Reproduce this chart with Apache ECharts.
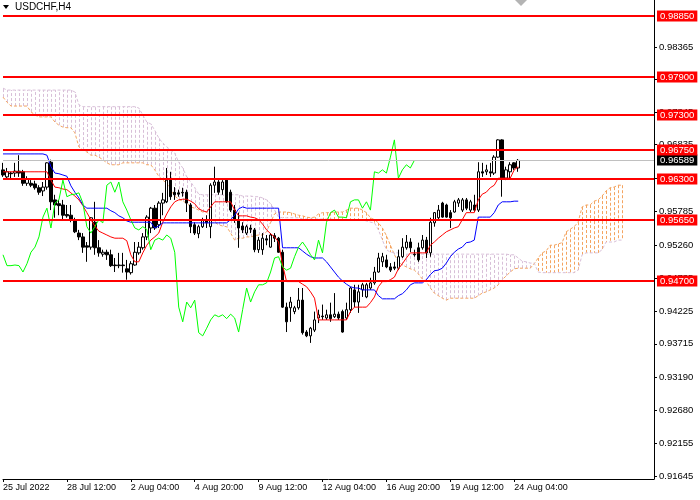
<!DOCTYPE html>
<html><head><meta charset="utf-8">
<script src="https://cdn.jsdelivr.net/npm/echarts@6/dist/echarts.min.js"></script>
<style>html,body{margin:0;padding:0;background:#fff}#c{width:700px;height:500px}</style>
</head><body><div id="c"></div>
<script>
const symbolTitle = 'USDCHF,H4';
const xLabels = ['25 Jul 2022','28 Jul 12:00','2 Aug 04:00','4 Aug 20:00','9 Aug 12:00','12 Aug 04:00','16 Aug 20:00','19 Aug 12:00','24 Aug 04:00'];
const yTicks = [0.98365,0.97855,0.97345,0.96835,0.96310,0.95785,0.95260,0.94735,0.94225,0.93715,0.93190,0.92680,0.92155,0.91645];
const levels = [0.9885,0.9790,0.9730,0.9675,0.9630,0.9565,0.9470];
const lastPrice = 0.96589;

const opens = [.9644,.9633,.9639,.9639,.9642,.9641,.9623,.9623,.9622,.9616,
.9611,.9617,.9656,.9597,.9591,.9589,.9574,.9573,.9566,.9545,
.9539,.9525,.9523,.9562,.9522,.9512,.9515,.9511,.9495,.9494,
.9495,.9489,.9483,.9495,.9514,.9522,.9539,.9553,.9584,.9558,
.9592,.9594,.9628,.9609,.9608,.9609,.9609,.9589,.9558,.9544,
.9555,.9566,.9555,.9620,.9625,.9613,.9628,.9609,.9581,.9566,
.9556,.9545,.9553,.9550,.9519,.9519,.9536,.9523,.9541,.9537,
.9515,.9429,.9428,.9422,.9428,.9440,.9390,.9384,.9393,.9412,
.9415,.9412,.9417,.9414,.9418,.9422,.9412,.9425,.9456,.9437,
.9456,.9445,.9459,.9467,.9484,.9500,.9503,.9492,.9492,.9490,
.9508,.9522,.9531,.9512,.9522,.9522,.9534,.9514,.9561,.9569,
.9592,.9589,.9577,.9578,.9592,.9581,.9597,.9581,.9589,.9581,
.9641,.9641,.9641,.9639,.9664,.9691,.9631,.9641,.9655,.9647];
const closes = [.9636,.9641,.9638,.9642,.9639,.9623,.9630,.9620,.9616,.9609,
.9617,.9655,.9594,.9589,.9588,.9573,.9572,.9566,.9547,.9539,
.9523,.9523,.9569,.9522,.9514,.9515,.9511,.9494,.9494,.9495,
.9494,.9484,.9497,.9515,.9523,.9539,.9570,.9584,.9553,.9592,
.9597,.9628,.9602,.9605,.9606,.9608,.9592,.9555,.9545,.9555,
.9566,.9561,.9620,.9625,.9609,.9625,.9594,.9581,.9566,.9553,
.9550,.9555,.9551,.9519,.9534,.9537,.9534,.9542,.9537,.9515,
.9429,.9406,.9437,.9428,.9440,.9389,.9384,.9396,.9409,.9417,
.9414,.9417,.9411,.9418,.9412,.9390,.9425,.9459,.9437,.9453,
.9464,.9464,.9467,.9484,.9506,.9508,.9492,.9487,.9490,.9508,
.9523,.9531,.9522,.9511,.9503,.9534,.9514,.9562,.9577,.9581,
.9570,.9570,.9569,.9594,.9597,.9597,.9584,.9594,.9581,.9641,
.9639,.9644,.9639,.9664,.9691,.9631,.9644,.9652,.9647,.96589];
const lows = [.9633,.9631,.9630,.9633,.9633,.9619,.9619,.9617,.9613,.9605,
.9603,.9613,.9581,.9569,.9573,.9567,.9569,.9562,.9545,.9534,
.9514,.9500,.9519,.9511,.9508,.9508,.9503,.9492,.9484,.9490,
.9483,.9472,.9480,.9494,.9511,.9519,.9534,.9545,.9550,.9553,
.9573,.9592,.9597,.9597,.9602,.9602,.9578,.9545,.9542,.9537,
.9553,.9553,.9537,.9608,.9605,.9605,.9592,.9578,.9561,.9522,
.9545,.9542,.9545,.9515,.9514,.9511,.9526,.9522,.9531,.9514,
.9428,.9390,.9406,.9418,.9425,.9386,.9382,.9373,.9390,.9404,
.9409,.9409,.9406,.9412,.9409,.9389,.9409,.9420,.9429,.9420,
.9445,.9443,.9456,.9464,.9483,.9492,.9490,.9484,.9487,.9487,
.9506,.9519,.9515,.9508,.9500,.9519,.9506,.9508,.9555,.9566,
.9569,.9569,.9553,.9577,.9586,.9578,.9581,.9578,.9578,.9578,
.9633,.9636,.9633,.9636,.9663,.9602,.9628,.9631,.9644,.9641];
const highs = [.9655,.9647,.9641,.9655,.9667,.9644,.9634,.9628,.9627,.9620,
.9625,.9656,.9660,.9605,.9597,.9597,.9589,.9589,.9569,.9550,
.9545,.9531,.9570,.9594,.9534,.9519,.9519,.9519,.9506,.9514,
.9514,.9503,.9501,.9531,.9531,.9545,.9573,.9586,.9589,.9595,
.9608,.9647,.9641,.9617,.9613,.9616,.9613,.9592,.9562,.9558,
.9569,.9573,.9623,.9649,.9628,.9628,.9630,.9613,.9589,.9577,
.9562,.9558,.9558,.9553,.9539,.9545,.9542,.9545,.9545,.9539,
.9519,.9436,.9445,.9431,.9459,.9459,.9393,.9398,.9422,.9425,
.9433,.9425,.9436,.9451,.9422,.9425,.9436,.9461,.9464,.9464,
.9467,.9467,.9475,.9492,.9514,.9514,.9511,.9498,.9500,.9519,
.9537,.9542,.9537,.9519,.9530,.9542,.9539,.9569,.9578,.9589,
.9594,.9591,.9581,.9597,.9600,.9600,.9600,.9597,.9605,.9656,
.9655,.9652,.9655,.9667,.9692,.9692,.9649,.9656,.9656,.9661];

const tenkan = [.9641,.9641,.9641,.9641,.9641,.9641,.9641,.9641,.9641,.9641,
.9641,.9641,.9628,.9617,.9616,.9614,.9613,.9608,.9603,.9597,
.9588,.9577,.9566,.9556,.9548,.9545,.9542,.9539,.9537,.9537,
.9537,.9533,.9511,.9500,.9500,.9514,.9526,.9534,.9539,.9545,
.9562,.9575,.9586,.9594,.9597,.9598,.9598,.9595,.9591,.9583,
.9580,.9578,.9586,.9594,.9594,.9594,.9594,.9594,.9581,.9572,
.9572,.9572,.9570,.9569,.9566,.9559,.9550,.9544,.9539,.9531,
.9495,.9469,.9469,.9469,.9469,.9465,.9461,.9453,.9443,.9409,
.9409,.9409,.9409,.9409,.9409,.9409,.9409,.9422,.9429,.9429,
.9429,.9429,.9436,.9445,.9461,.9469,.9469,.9472,.9476,.9489,
.9497,.9506,.9514,.9514,.9514,.9514,.9514,.9526,.9531,.9537,
.9542,.9547,.9550,.9553,.9555,.9566,.9577,.9577,.9577,.9597,
.9606,.9609,.9616,.9620,.9631,.9631,.9631,.9631,.9644,.9649];
const kijun = [.9669,.9669,.9669,.9669,.9669,.9669,.9669,.9669,.9669,.9669,
.9669,.9667,.9649,.9639,.9638,.9636,.9634,.9619,.9609,.9600,
.9589,.9584,.9584,.9584,.9584,.9584,.9584,.9580,.9577,.9572,
.9569,.9564,.9562,.9562,.9562,.9562,.9562,.9562,.9553,.9556,
.9561,.9561,.9561,.9561,.9561,.9561,.9561,.9561,.9561,.9561,
.9561,.9561,.9561,.9561,.9561,.9561,.9561,.9566,.9573,.9583,
.9586,.9584,.9584,.9584,.9584,.9584,.9584,.9584,.9584,.9584,
.9522,.9522,.9522,.9522,.9522,.9517,.9512,.9508,.9506,.9506,
.9506,.9500,.9492,.9484,.9476,.9470,.9465,.9461,.9459,.9459,
.9456,.9456,.9456,.9456,.9447,.9442,.9442,.9442,.9442,.9447,
.9450,.9456,.9464,.9467,.9467,.9467,.9472,.9480,.9486,.9487,
.9490,.9498,.9508,.9515,.9520,.9523,.9530,.9531,.9534,.9570,
.9570,.9570,.9570,.9577,.9589,.9594,.9594,.9594,.9595,.9595];
const spanA = [.9758,.9750,.9744,.9744,.9744,.9744,.9744,.9735,.9730,.9727,
.9727,.9727,.9727,.9719,.9714,.9711,.9710,.9710,.9702,.9680,
.9675,.9672,.9667,.9667,.9664,.9660,.9655,.9652,.9652,.9652,
.9655,.9655,.9655,.9655,.9655,.9655,.9652,.9652,.9644,.9634,
.9628,.9623,.9613,.9603,.9598,.9595,.9592,.9586,.9584,.9581,
.9578,.9578,.9570,.9562,.9558,.9556,.9555,.9545,.9534,.9537,
.9537,.9539,.9539,.9541,.9542,.9542,.9547,.9562,.9575,.9578,
.9578,.9578,.9577,.9575,.9573,.9572,.9570,.9569,.9570,.9575,
.9577,.9577,.9577,.9578,.9578,.9578,.9581,.9584,.9584,.9584,
.9581,.9577,.9569,.9566,.9561,.9553,.9541,.9526,.9511,.9500,
.9495,.9492,.9489,.9487,.9481,.9473,.9469,.9459,.9451,.9447,
.9443,.9440,.9443,.9443,.9443,.9443,.9443,.9443,.9443,.9447,
.9451,.9453,.9456,.9459,.9464,.9472,.9478,.9484,.9489,.9490,
.9490,.9490,.9490,.9497,.9506,.9514,.9517,.9526,.9526,.9528,
.9530,.9547,.9551,.9555,.9562,.9586,.9589,.9589,.9595,.9597,
.9603,.9611,.9616,.9617,.9620,.9620];
const spanB = [.9772,.9769,.9769,.9769,.9769,.9769,.9769,.9769,.9769,.9769,
.9769,.9769,.9769,.9769,.9769,.9769,.9769,.9769,.9766,.9746,
.9743,.9743,.9743,.9743,.9743,.9743,.9743,.9743,.9743,.9743,
.9743,.9743,.9743,.9743,.9741,.9730,.9719,.9716,.9706,.9694,
.9686,.9680,.9675,.9670,.9656,.9647,.9633,.9625,.9616,.9606,
.9605,.9605,.9605,.9605,.9605,.9605,.9605,.9605,.9605,.9605,
.9603,.9603,.9603,.9602,.9602,.9600,.9597,.9591,.9581,.9570,
.9569,.9569,.9569,.9569,.9569,.9567,.9567,.9567,.9567,.9567,
.9567,.9567,.9567,.9566,.9566,.9566,.9566,.9566,.9566,.9566,
.9566,.9564,.9562,.9561,.9550,.9534,.9519,.9515,.9514,.9514,
.9512,.9512,.9512,.9512,.9512,.9512,.9512,.9512,.9512,.9512,
.9512,.9512,.9512,.9512,.9512,.9512,.9512,.9512,.9512,.9512,
.9512,.9512,.9512,.9512,.9512,.9512,.9512,.9511,.9511,.9506,
.9501,.9500,.9498,.9498,.9484,.9483,.9483,.9483,.9483,.9483,
.9483,.9483,.9483,.9483,.9487,.9511,.9514,.9514,.9514,.9514,
.9519,.9531,.9531,.9531,.9534,.9534];

const SLOTS = 164, STEP = 16, SHIFT = 26;
const categories = [];
for (let i = 0; i < SLOTS; i++) categories.push(i % STEP === 0 && xLabels[i / STEP] ? xLabels[i / STEP] : '');
const candleData = opens.map((o, i) => [o, closes[i], lows[i], highs[i]]);
const chikou = closes.slice(SHIFT);
const cloud = spanA.map((a, i) => [i, a, spanB[i]]);
const levelData = [[0, lastPrice, 1]].concat(levels.map(v => [0, v, 0]));
const FONT = "'Liberation Sans',Arial,sans-serif";
const showIdx = (i) => i % STEP === 0 && i / STEP < xLabels.length;

const chart = echarts.init(document.getElementById('c'), null, {renderer: 'canvas'});
chart.setOption({
  animation: false,
  backgroundColor: '#fff',
  grid: {left: 0, right: 46, top: 0, bottom: 21},
  xAxis: {
    type: 'category', data: categories, boundaryGap: false,
    axisLine: {lineStyle: {color: '#000', width: 1}},
    axisTick: {interval: showIdx, length: 3, lineStyle: {color: '#000'}},
    axisLabel: {interval: showIdx, align: 'left', margin: 4, color: '#000', fontSize: 9, fontFamily: FONT, hideOverlap: false},
    splitLine: {show: false}
  },
  yAxis: {
    type: 'value', position: 'right', min: 0.91598, max: 0.99101, scale: true,
    axisLine: {show: true, lineStyle: {color: '#000', width: 1}},
    axisTick: {show: true, length: 3, customValues: yTicks, lineStyle: {color: '#000'}},
    axisLabel: {customValues: yTicks, formatter: v => v.toFixed(5), color: '#000', fontSize: 9.5, fontFamily: FONT, margin: 5},
    splitLine: {show: false}
  },
  graphic: [
    {type: 'polygon', shape: {points: [[3, 5], [9, 5], [6, 9]]}, style: {fill: '#000'}},
    {type: 'text', left: 15, top: 2, style: {text: symbolTitle, fill: '#000', fontSize: 10, fontFamily: FONT}},
    {type: 'polygon', shape: {points: [[515, 0], [527, 0], [521, 6]]}, style: {fill: '#B4B4B4'}}
  ],
  series: [
    {
      type: 'custom', name: 'cloud', data: cloud, clip: true, z: 1,
      encode: {x: 0, y: [1, 2]},
      renderItem: function (params, api) {
        const i = api.value(0), a = api.value(1), b = api.value(2);
        const pa = api.coord([i, a]), pb = api.coord([i, b]);
        const x = Math.round(pa[0]) + 0.5;
        return {type: 'line', shape: {x1: x, y1: pa[1], x2: x, y2: pb[1]},
          style: {stroke: a > b ? '#F4A460' : '#D8BFD8', lineWidth: 1, lineDash: [3, 2]}};
      }
    },
    {type: 'line', name: 'Senkou A', data: spanA, symbol: 'none', z: 2,
      lineStyle: {color: '#F4A460', width: 1, type: [3, 2]}},
    {type: 'line', name: 'Senkou B', data: spanB, symbol: 'none', z: 2,
      lineStyle: {color: '#D8BFD8', width: 1, type: [3, 2]}},
    {type: 'candlestick', name: symbolTitle, data: candleData, barWidth: 3, z: 3,
      itemStyle: {color: '#fff', color0: '#000', borderColor: '#000', borderColor0: '#000', borderWidth: 1}},
    {type: 'line', name: 'Tenkan', data: tenkan, symbol: 'none', z: 4, lineStyle: {color: '#FF0000', width: 1}},
    {type: 'line', name: 'Kijun', data: kijun, symbol: 'none', z: 4, lineStyle: {color: '#0000FF', width: 1}},
    {type: 'line', name: 'Chikou', data: chikou, symbol: 'none', z: 4, lineStyle: {color: '#00FF00', width: 1}},
    {
      type: 'custom', name: 'levels', data: levelData, clip: false, z: 10, silent: true,
      encode: {x: 0, y: 1},
      renderItem: function (params, api) {
        const v = api.value(1), isLast = api.value(2) === 1;
        const cs = params.coordSys;
        const y = api.coord([0, v])[1];
        const yl = isLast ? Math.round(y) + 0.5 : Math.round(y);
        return {type: 'group', children: [
          {type: 'line', shape: {x1: cs.x, y1: yl, x2: cs.x + cs.width, y2: yl},
            style: {stroke: isLast ? '#C0C0C0' : '#FF0000', lineWidth: isLast ? 1 : 2}},
          {type: 'text', x: cs.x + cs.width + 3, y: Math.round(y),
            style: {text: v.toFixed(5), fill: '#fff', backgroundColor: isLast ? '#000' : '#FF0000',
              padding: [1, 3, 0, 3], fontSize: 9.5, fontFamily: FONT, lineHeight: 10,
              align: 'left', verticalAlign: 'middle'}}
        ]};
      }
    }
  ]
});
</script></body></html>
